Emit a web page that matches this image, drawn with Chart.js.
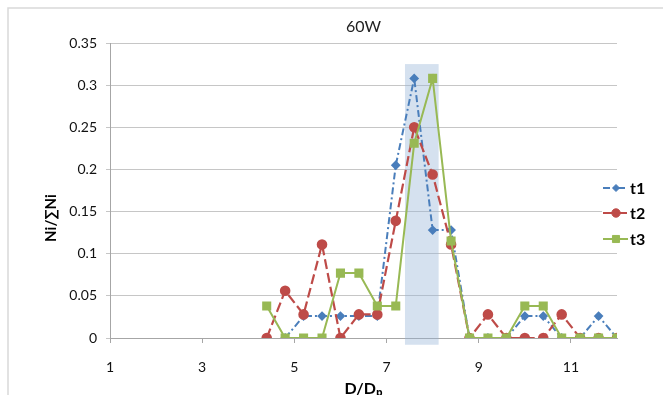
<html>
<head>
<style>
  body { margin: 0; background: #fff; }
</style>
</head>
<body>
<canvas id="chart_60w" width="663" height="395"></canvas>
<script src="https://cdn.jsdelivr.net/npm/chart.js"></script>
<script>
// D/Dp classes (x) and the three size distributions Ni/sum(Ni)
const sizes = [4.4, 4.8, 5.2, 5.6, 6.0, 6.4, 6.8, 7.2, 7.6, 8.0, 8.4, 8.8, 9.2, 9.6, 10.0, 10.4, 10.8, 11.2, 11.6, 12.0];
const t1 = [null, 0, 0.026, 0.026, 0.026, 0.026, 0.026, 0.205, 0.308, 0.128, 0.128, 0, 0, 0, 0.026, 0.026, 0, 0, 0.026, 0];
const t2 = [0, 0.056, 0.028, 0.111, 0, 0.028, 0.028, 0.139, 0.25, 0.194, 0.111, 0, 0.028, 0, 0, 0, 0.028, 0, 0, 0];
const t3 = [0.038, 0, 0, 0, 0.077, 0.077, 0.038, 0.038, 0.231, 0.308, 0.115, 0, 0, 0, 0.038, 0.038, 0, 0, 0, 0];
const seriesNames = ["t1", "t2", "t3"];

const xTicks = [1, 3, 5, 7, 9, 11];
const xTickLabels = ["1", "3", "5", "7", "9", "11"];
const yTicks = [0, 0.05, 0.1, 0.15, 0.2, 0.25, 0.3, 0.35];
const yTickLabels = ["0", "0.05", "0.1", "0.15", "0.2", "0.25", "0.3", "0.35"];

// shaded band around the peak
const bandX = [7.4, 8.13];
const bandY = [-0.008, 0.325];

const FONT = "Lato, 'Open Sans', sans-serif";

function toPoints(values) {
    return sizes.map((x, i) => ({ x: x, y: values[i] }));
}

const framePlugin = {
    id: "frame",
    beforeDraw(chart) {
        const ctx = chart.ctx;
        ctx.save();
        ctx.strokeStyle = "#d9d9d9";
        ctx.lineWidth = 1.5;
        ctx.beginPath();
        ctx.moveTo(8, 400);
        ctx.lineTo(8, 8);
        ctx.lineTo(670, 8);
        ctx.stroke();
        ctx.restore();
    }
};

const bandPlugin = {
    id: "band",
    beforeDatasetsDraw(chart) {
        const ctx = chart.ctx;
        const x = chart.scales.x, y = chart.scales.y;
        const left = x.getPixelForValue(bandX[0]);
        const right = x.getPixelForValue(bandX[1]);
        const top = y.getPixelForValue(bandY[1]);
        const bottom = y.getPixelForValue(bandY[0]);
        ctx.save();
        ctx.fillStyle = "rgba(149, 179, 215, 0.4)";
        ctx.fillRect(left, top, right - left, bottom - top);
        ctx.restore();
    }
};

const sideTextPlugin = {
    id: "sideText",
    afterDraw(chart) {
        const ctx = chart.ctx;
        const area = chart.chartArea;

        // chart title, centred over the plot area
        ctx.save();
        ctx.font = "16px " + FONT;
        ctx.fillStyle = "#222";
        ctx.textAlign = "center";
        ctx.textBaseline = "middle";
        ctx.fillText("60W", (area.left + area.right) / 2, 27);
        ctx.restore();

        // y axis title
        ctx.save();
        ctx.translate(51, 218);
        ctx.rotate(-Math.PI / 2);
        ctx.font = "bold 15px " + FONT;
        ctx.fillStyle = "#000";
        ctx.textAlign = "center";
        ctx.textBaseline = "middle";
        ctx.fillText("Ni/\u2211Ni", 0, 0);
        ctx.restore();

        // legend
        ctx.save();
        ctx.fillStyle = "#fff";
        ctx.fillRect(602, 176, 61, 75);
        const rows = [188, 213, 239];
        chart.data.datasets.forEach((ds, i) => {
            const yy = rows[i];
            ctx.save();
            ctx.strokeStyle = ds.borderColor;
            ctx.lineWidth = ds.borderWidth;
            ctx.setLineDash(ds.borderDash || []);
            ctx.beginPath();
            ctx.moveTo(603, yy);
            ctx.lineTo(628, yy);
            ctx.stroke();
            ctx.setLineDash([]);
            ctx.fillStyle = ds.backgroundColor;
            ctx.lineWidth = 1;
            Chart.helpers.drawPoint(ctx, {
                pointStyle: ds.pointStyle,
                radius: ds.pointRadius,
                rotation: 0,
                borderWidth: 1
            }, 616, yy);
            ctx.restore();
            ctx.font = "bold 16px " + FONT;
            ctx.fillStyle = "#000";
            ctx.textAlign = "left";
            ctx.textBaseline = "middle";
            ctx.fillText(seriesNames[i], 630, yy + 1);
        });
        ctx.restore();
    }
};

const chart = new Chart(document.getElementById("chart_60w").getContext("2d"), {
    type: "line",
    data: {
        datasets: [{
            label: seriesNames[0],
            data: toPoints(t1),
            borderColor: "#4a7ebb",
            backgroundColor: "#4a7ebb",
            borderWidth: 2,
            borderDash: [7, 3, 2, 3],
            pointStyle: "rectRot",
            pointRadius: 3.5,
            order: 3
        }, {
            label: seriesNames[1],
            data: toPoints(t2),
            borderColor: "#be4b48",
            backgroundColor: "#be4b48",
            borderWidth: 2.2,
            borderDash: [10, 4],
            pointStyle: "circle",
            pointRadius: 4.2,
            order: 2
        }, {
            label: seriesNames[2],
            data: toPoints(t3),
            borderColor: "#98b954",
            backgroundColor: "#98b954",
            borderWidth: 2,
            pointStyle: "rect",
            pointRadius: 5,
            order: 1
        }]
    },
    options: {
        responsive: false,
        devicePixelRatio: 1,
        animation: false,
        spanGaps: false,
        layout: {
            padding: { left: 10, right: 46, top: 43, bottom: 0 }
        },
        plugins: {
            legend: { display: false },
            tooltip: { enabled: false },
            title: { display: false }
        },
        scales: {
            x: {
                type: "linear",
                min: 1,
                max: 12,
                afterBuildTicks: (scale) => {
                    scale.ticks = xTicks.map((v) => ({ value: v }));
                },
                afterFit: (scale) => { scale.height = 57; },
                ticks: {
                    callback: (v, i) => xTickLabels[i],
                    color: "#111",
                    font: { family: FONT, size: 14 },
                    padding: 16,
                    maxRotation: 0
                },
                grid: {
                    drawOnChartArea: false,
                    drawTicks: true,
                    tickLength: 5,
                    color: "#a6a6a6"
                },
                border: { color: "#a6a6a6" },
                title: {
                    display: true,
                    text: "D/D\u209a",
                    color: "#000",
                    font: { family: FONT, size: 16, weight: "bold" },
                    padding: { top: 0, bottom: -3 }
                }
            },
            y: {
                min: 0,
                max: 0.35,
                afterBuildTicks: (scale) => {
                    scale.ticks = yTicks.map((v) => ({ value: v }));
                },
                afterFit: (scale) => { scale.width = 100; },
                ticks: {
                    callback: (v, i) => yTickLabels[i],
                    color: "#111",
                    font: { family: FONT, size: 14 },
                    padding: 9
                },
                grid: {
                    color: "#c6c6c6",
                    tickLength: 4
                },
                border: { color: "#a6a6a6" }
            }
        }
    },
    plugins: [framePlugin, bandPlugin, sideTextPlugin]
});
</script>
</body>
</html>
